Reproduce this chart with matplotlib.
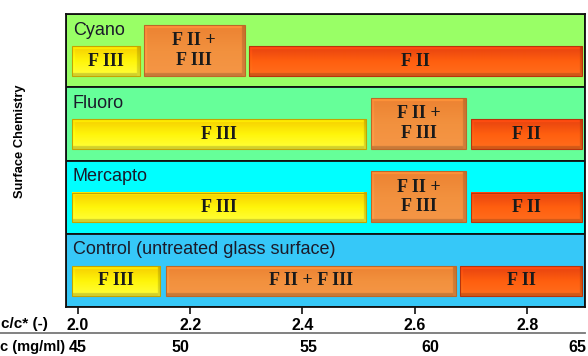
import numpy as np
import matplotlib
matplotlib.use("Agg")
import matplotlib.pyplot as plt
from matplotlib.patches import Rectangle
from matplotlib.lines import Line2D
import matplotlib.transforms as mtransforms

# ---------------- data ----------------
panels = ["Cyano", "Fluoro", "Mercapto", "Control (untreated glass surface)"]
panel_colors = ["#99FF66", "#66FF99", "#00FFFF", "#36C8F8"]

# phase regions along c/c* for each panel (start, end, label, kind)
cyano_starts = [1.989, 2.118, 2.305]
cyano_ends = [2.110, 2.297, 2.898]
cyano_labels = ["F III", "F II +\nF III", "F II"]
cyano_kinds = ["FIII", "mix", "FII"]

fluoro_starts = [1.989, 2.522, 2.700]
fluoro_ends = [2.513, 2.691, 2.898]
fluoro_labels = ["F III", "F II +\nF III", "F II"]
fluoro_kinds = ["FIII", "mix", "FII"]

mercapto_starts = [1.989, 2.522, 2.700]
mercapto_ends = [2.513, 2.691, 2.898]
mercapto_labels = ["F III", "F II +\nF III", "F II"]
mercapto_kinds = ["FIII", "mix", "FII"]

control_starts = [1.989, 2.157, 2.680]
control_ends = [2.146, 2.673, 2.898]
control_labels = ["F III", "F II + F III", "F II"]
control_kinds = ["FIII", "mixwide", "FII"]

ratio_ticks = [2.0, 2.2, 2.4, 2.6, 2.8]
ratio_ticklabels = ["2.0", "2.2", "2.4", "2.6", "2.8"]
conc_labels = ["45", "50", "55", "60", "65"]
conc_positions = [2.0, 2.182, 2.41, 2.627, 2.89]

# ---------------- styles ----------------
kind_colors = {
    "FIII": ((246, 205, 0), (255, 245, 10), (255, 255, 60)),
    "mix": ((236, 130, 50), (242, 145, 62), (245, 150, 70)),
    "mixwide": ((236, 130, 50), (242, 145, 62), (245, 150, 70)),
    "FII": ((230, 65, 15), (255, 95, 15), (255, 110, 30)),
}
tall_kinds = {"mix"}

W, H = 588, 356
fig = plt.figure(figsize=(W / 100, H / 100), dpi=100)
ax = fig.add_axes([66 / W, (H - 307) / H, (585 - 66) / W, (307 - 14) / H])
xmin, xmax = 1.979, 2.903
ax.set_xlim(xmin, xmax)
ax.set_ylim(0, 4)
ax.set_yticks([])
for s in ax.spines.values():
    s.set_linewidth(1.3)
    s.set_color("#111111")

ax_w_px = (585 - 66)
ax_h_px = (307 - 14)
px_x = ax_w_px / (xmax - xmin)
px_y = ax_h_px / 4.0


def bevel_image(x0, x1, y0, y1, cols):
    wpx = max(int(round((x1 - x0) * px_x)) * 2, 4)
    hpx = max(int(round((y1 - y0) * px_y)) * 2, 4)
    top, mid, bot = [np.array(c, float) / 255 for c in cols]
    img = np.zeros((hpx, wpx, 3))
    for i in range(hpx):
        f = i / (hpx - 1)
        if f < 0.5:
            c = top + (mid - top) * (f / 0.5)
        else:
            c = mid + (bot - mid) * ((f - 0.5) / 0.5)
        img[i, :, :] = c
    b = 6  # bevel width in half-pixels
    fac = np.ones((hpx, wpx))
    fac[:b, :] = 1.12
    fac[:, :b] = np.maximum(fac[:, :b], 1.06)
    fac[-b:, :] = 0.82
    fac[:, -b:] = 0.85
    img = np.clip(img * fac[..., None], 0, 1)
    return img


panel_data = [
    (cyano_starts, cyano_ends, cyano_labels, cyano_kinds),
    (fluoro_starts, fluoro_ends, fluoro_labels, fluoro_kinds),
    (mercapto_starts, mercapto_ends, mercapto_labels, mercapto_kinds),
    (control_starts, control_ends, control_labels, control_kinds),
]

for i, (name, pc, pdata) in enumerate(zip(panels, panel_colors, panel_data)):
    base = 3 - i
    ax.add_patch(Rectangle((xmin, base), xmax - xmin, 1, facecolor=pc,
                           edgecolor="#111111", linewidth=1.3, zorder=1))
    ax.text(1.991, base + 0.78, name, ha="left", va="center",
            fontsize=13, family="Liberation Sans", color="#1a1a2a", zorder=5)
    for s, e, lab, kind in zip(*pdata):
        y0 = base + 0.155
        y1 = base + (0.85 if kind in tall_kinds else 0.56)
        img = bevel_image(s, e, y0, y1, kind_colors[kind])
        ax.imshow(img, extent=(s, e, y0, y1), aspect="auto",
                  interpolation="bilinear", zorder=2)
        edge = np.array(kind_colors[kind][0]) / 255 * 0.8
        ax.add_patch(Rectangle((s, y0), e - s, y1 - y0, facecolor="none",
                               edgecolor=edge, linewidth=0.8, zorder=3))
        ax.text((s + e) / 2, (y0 + y1) / 2, lab, ha="center", va="center",
                fontsize=13, family="Liberation Serif", fontweight="bold",
                color="#1a1a1a", linespacing=1.2, zorder=4)

ax.set_xlim(xmin, xmax)
ax.set_ylim(0, 4)
ax.set_xticks(ratio_ticks)
ax.set_xticklabels(ratio_ticklabels, fontsize=11.5, fontweight="bold",
                   family="Liberation Sans")
ax.tick_params(axis="x", direction="out", length=5, width=1.2, pad=3,
               color="#111111")

# secondary concentration labels
trans = mtransforms.blended_transform_factory(ax.transData, fig.transFigure)
for p, lab in zip(conc_positions, conc_labels):
    fig.text(p, (H - 347) / H, lab, transform=trans, ha="center", va="center",
             fontsize=11.5, fontweight="bold", family="Liberation Sans")

fig.text(1 / W, (H - 324) / H, "c/c* (-)", ha="left", va="center",
         fontsize=11, fontweight="bold", family="Liberation Sans")
fig.text(0 / W, (H - 347) / H, "c (mg/ml)", ha="left", va="center",
         fontsize=10.5, fontweight="bold", family="Liberation Sans")
fig.add_artist(Line2D([0, 585 / W], [(H - 333) / H] * 2, color="#777777",
                      linewidth=1.3, transform=fig.transFigure))

fig.text(20 / W, (H - 141) / H, "Surface Chemistry", rotation=90,
         ha="center", va="center", fontsize=9.3, fontweight="bold",
         family="Liberation Sans")

fig.savefig("out.png", dpi=100, facecolor="white")
